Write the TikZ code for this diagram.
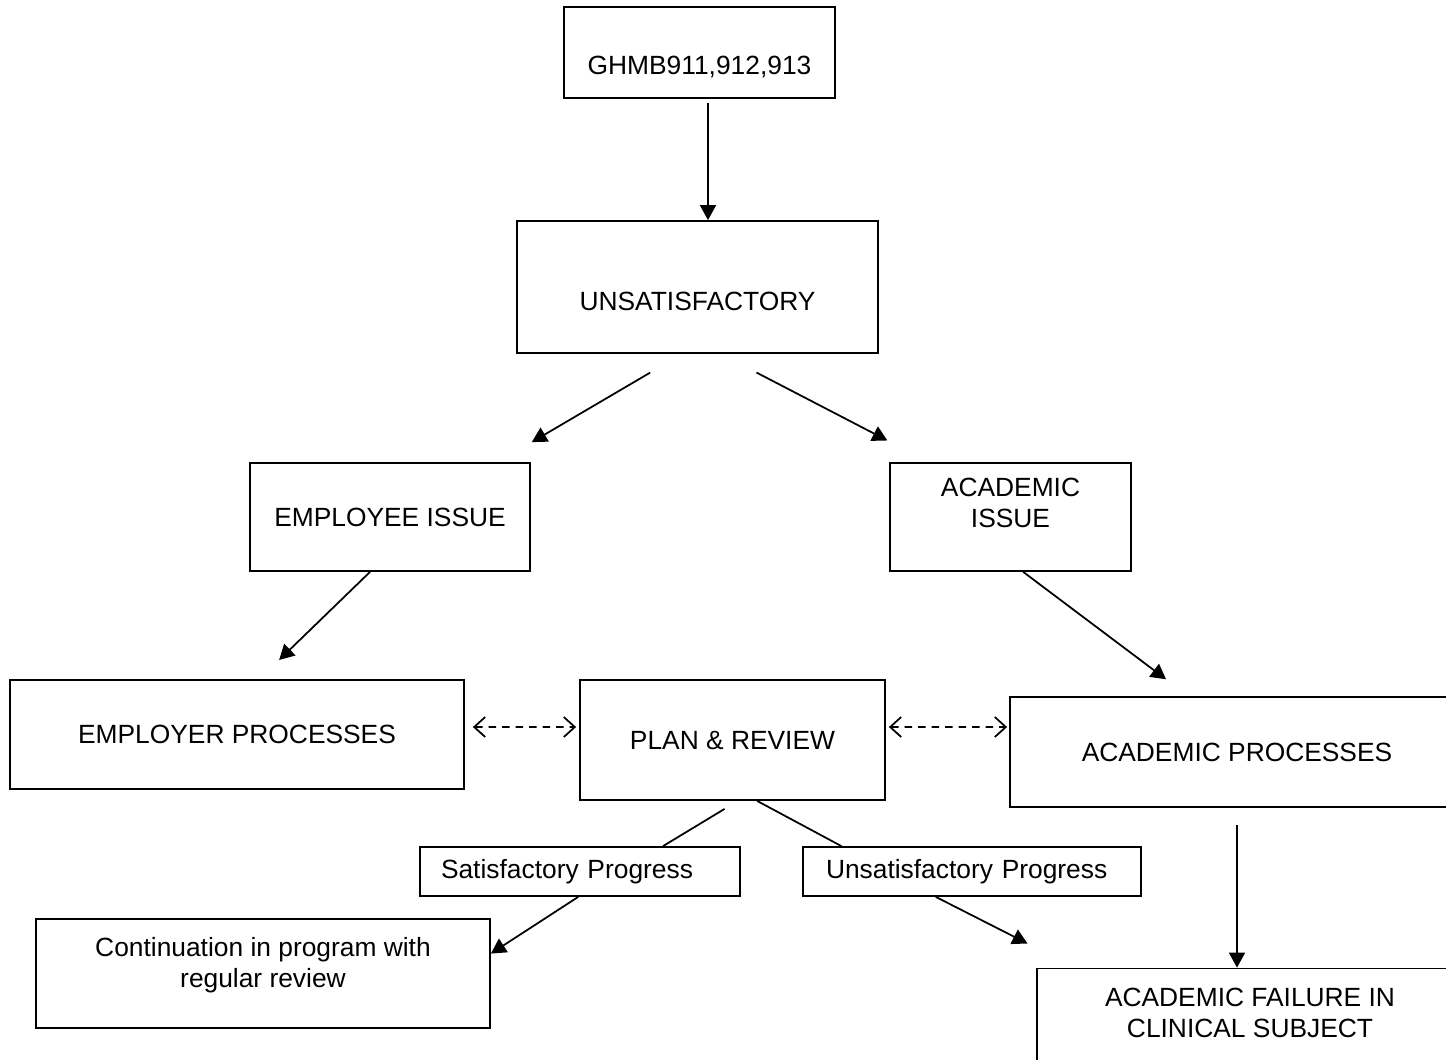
\documentclass[tikz,border=0pt]{standalone}
\usepackage{fontspec}
\setmainfont{Liberation Sans}
\usetikzlibrary{arrows.meta}

\begin{document}
\begin{tikzpicture}[>={Triangle[length=0.3cm,width=0.32cm]},
            box/.style={draw=black,line width=1pt,align=center,inner sep=0pt,
                font=\fontsize{15}{17.6}\selectfont},
            flow/.style={->,line width=1pt},
            link/.style={{Straight Barb[length=0.22cm,width=0.4cm]}-{Straight Barb[length=0.22cm,width=0.4cm]},
                line width=1pt,dash pattern=on 0.15cm off 0.12cm}]

            \useasboundingbox (0,0) rectangle (28.92,-21.18);

            %%%%%%%%%%%%%%%%%%%%%%%%%%%%%%%%%%%
            % top of the chart
            \node[box,minimum width=5.42cm,minimum height=1.82cm,text height=0.86cm,text depth=0cm] (ghmb) at (+13.99, -1.05) {GHMB911,912,913};
            \node[box,minimum width=7.22cm,minimum height=2.64cm,text height=0.94cm,text depth=0cm] (unsat) at (+13.95, -5.74) {UNSATISFACTORY};
            \node[box,minimum width=5.60cm,minimum height=2.16cm] (empissue) at (+7.80, -10.34) {EMPLOYEE ISSUE};
            \node[box,minimum width=4.82cm,minimum height=2.16cm,text depth=0.56cm] (acaissue) at (+20.21, -10.34) {ACADEMIC\\ISSUE};

            %%%%%%%%%%%%%%%%%%%%%%%%%%%%%%%%%%%
            % processes
            \node[box,minimum width=9.08cm,minimum height=2.18cm] (emproc) at (+4.74, -14.69) {EMPLOYER PROCESSES};
            \node[box,minimum width=6.10cm,minimum height=2.40cm] (plan) at (+14.65, -14.80) {PLAN \& REVIEW};
            \node[box,minimum width=9.08cm,minimum height=2.20cm] (acaproc) at (+24.74, -15.04) {ACADEMIC PROCESSES};

            %%%%%%%%%%%%%%%%%%%%%%%%%%%%%%%%%%%
            % outcomes
            \node[box,minimum width=6.40cm,minimum height=0.98cm,inner xsep=0.42cm,text width=5.56cm,align=left] (satprog) at (+11.60, -17.43) {Satisfactory Progress};
            \node[box,minimum width=6.76cm,minimum height=0.98cm,inner xsep=0.46cm,text width=5.84cm,align=left] (unsatprog) at (+19.44, -17.43) {Unsatisfactory Progress};
            \node[box,minimum width=9.08cm,minimum height=2.18cm,text depth=0.44cm] (contin) at (+5.26, -19.47) {Continuation in program with\\regular review};
            \node[box,minimum width=8.52cm,minimum height=2.18cm,text depth=0.40cm] (acafail) at (+25.00, -20.46) {ACADEMIC FAILURE IN\\CLINICAL SUBJECT};
            \coordinate (unsatend) at (+20.55, -18.87);

            %%%%%%%%%%%%%%%%%%%%%%%%%%%%%%%%%%%
            % ghmb -> unsat -> issues
            \draw[flow,shorten <=0.08cm] ([xshift=0.17cm]ghmb.south) -- ([xshift=0.21cm]unsat.north);
            \draw[flow,shorten <=0.74cm,shorten >=0.79cm] (unsat.257.6) -- (empissue.27);
            \draw[flow,shorten <=0.81cm,shorten >=0.94cm] (unsat.289.8) -- (acaissue.146.6);

            % issues -> processes
            \draw[flow,shorten >=0.55cm] (empissue.250.6) -- (emproc.68.6);
            \draw[flow,shorten >=0.56cm] (acaissue.283) -- (acaproc.131.5);

            % plan <-> processes
            \draw[link,shorten <=0.16cm,shorten >=0.06cm] ([yshift=0.15cm]emproc.east) -- ([yshift=0.26cm]plan.west);
            \draw[link,shorten <=0.06cm,shorten >=0.04cm] ([yshift=0.26cm]plan.east) -- ([yshift=0.50cm]acaproc.west);
            %%%%%%%%%%%%%%%%%%%%%%%%%%%%%%%%%%%

            % plan -> progress
            \draw[line width=1pt,shorten <=0.31cm] (plan.275.7) -- (satprog.17.2);
            \draw[flow] (satprog.266.3) -- (contin.5.9);
            \draw[line width=1pt] (plan.292.4) -- (unsatprog.169);
            \draw[flow] (unsatprog.215.8) -- (unsatend);

            % acaproc -> failure
            \draw[flow,shorten <=0.34cm] (acaproc.south) -- (acafail.north -| acaproc.south);
        \end{tikzpicture}
\end{document}
